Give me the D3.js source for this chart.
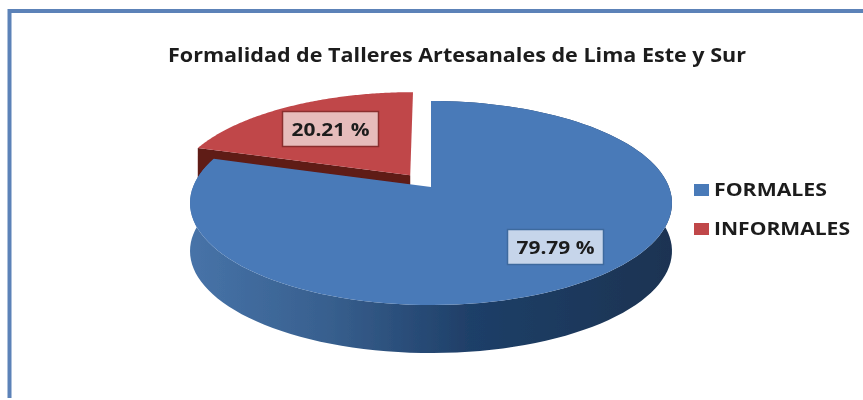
<!DOCTYPE html>
<html>
<head>
<meta charset="utf-8">
<script src="https://cdn.jsdelivr.net/npm/d3@7"></script>
<style>
  html, body { margin: 0; padding: 0; background: #fff; }
  svg { display: block; }
</style>
</head>
<body>
<svg id="chart" width="863" height="400"></svg>
<script>
const titleText = "Formalidad de Talleres Artesanales de Lima Este y Sur";
const categories = ["FORMALES", "INFORMALES"];
const values = [79.79, 20.21];
const labels = ["79.79 %", "20.21 %"];
const topColors = ["#4a7ab8", "#c0474a"];

const svg = d3.select("#chart");
const font = "'Open Sans', 'Noto Sans', sans-serif";

const defs = svg.append("defs");
// la imagen original esta algo borrosa
defs.append("filter").attr("id", "soft")
  .append("feGaussianBlur").attr("stdDeviation", 0.55);

const wallGrad = defs.append("linearGradient")
  .attr("id", "wallBlue")
  .attr("gradientUnits", "userSpaceOnUse")
  .attr("x1", 190).attr("x2", 672).attr("y1", 0).attr("y2", 0);
wallGrad.append("stop").attr("offset", 0).attr("stop-color", "#4773a8");
wallGrad.append("stop").attr("offset", 0.28).attr("stop-color", "#38608f");
wallGrad.append("stop").attr("offset", 0.58).attr("stop-color", "#1f3f68");
wallGrad.append("stop").attr("offset", 1).attr("stop-color", "#1a3352");

const root = svg.append("g").attr("filter", "url(#soft)");

// marco del grafico
root.append("path")
  .attr("d", "M9.5,398V11H870")
  .attr("fill", "none")
  .attr("stroke", "#5b82b8")
  .attr("stroke-width", 4);

root.append("text")
  .attr("x", 168).attr("y", 62)
  .attr("textLength", 578)
  .attr("lengthAdjust", "spacingAndGlyphs")
  .attr("font-family", font)
  .attr("font-weight", 700)
  .attr("font-size", 19)
  .attr("fill", "#1c1c1c")
  .text(titleText);

// pastel en perspectiva: disco unidad -> pantalla
const cx = 431, cy = 187, rxP = 238, ryP = 99.5, k = -0.157, depth = 48;
function project(u, v) {
  const w = 1 + k * v;
  return [cx + u * rxP / w, cy + v * ryP / w];
}

const pie = d3.pie().sort(null);
const slices = pie(values);
const explode = [0, 0.15];
const line = d3.line();

const sliceData = slices.map((s, i) => {
  const mid = (s.startAngle + s.endAngle) / 2;
  const ox = Math.sin(mid) * explode[i];
  const oy = -Math.cos(mid) * explode[i];
  const steps = d3.range(0, 121).map(t => s.startAngle + (s.endAngle - s.startAngle) * t / 120);
  const rim = steps.map(a => project(ox + Math.sin(a), oy - Math.cos(a)));
  return { i, rim, center: project(ox, oy) };
});

// primero el sector rojo, el azul va delante
[1, 0].forEach(i => {
  const d = sliceData[i];
  const low = p => [p[0], p[1] + depth];
  if (i === 1) {
    root.append("path")
      .attr("d", line([d.center, d.rim[0], low(d.rim[0]), low(d.center)]) + "Z")
      .attr("fill", "#5e1a18");
  } else {
    root.append("path")
      .attr("d", line([...d.rim, ...d.rim.map(low).reverse()]) + "Z")
      .attr("fill", "url(#wallBlue)");
  }
  root.append("path")
    .attr("d", line([d.center, ...d.rim]) + "Z")
    .attr("fill", topColors[i]);
});

// etiquetas de datos
const labelBg = ["#c6d5ea", "#e6bcbb"];
const labelStroke = ["#3d6a9e", "#8a2f2d"];
const labelAt = [[555.5, 247], [330.5, 129]];
labels.forEach((t, i) => {
  const g = root.append("g").attr("transform", `translate(${labelAt[i][0]},${labelAt[i][1]})`);
  g.append("rect")
    .attr("x", -48).attr("y", -17.5).attr("width", 96).attr("height", 35)
    .attr("fill", labelBg[i])
    .attr("stroke", labelStroke[i])
    .attr("stroke-width", 1.5);
  g.append("text")
    .attr("x", -39).attr("y", 6.5)
    .attr("textLength", 78)
    .attr("lengthAdjust", "spacingAndGlyphs")
    .attr("font-family", font)
    .attr("font-weight", 700)
    .attr("font-size", 18)
    .attr("fill", "#1c1c1c")
    .text(t);
});

// leyenda
const legendY = d3.scalePoint().domain(categories).range([190, 229]);
const legendWidth = [113, 136];
categories.forEach((c, i) => {
  root.append("rect")
    .attr("x", 694).attr("y", legendY(c) - 6)
    .attr("width", 15).attr("height", 12)
    .attr("fill", topColors[i]);
  root.append("text")
    .attr("x", 714).attr("y", legendY(c) + 6)
    .attr("textLength", legendWidth[i])
    .attr("lengthAdjust", "spacingAndGlyphs")
    .attr("font-family", font)
    .attr("font-weight", 700)
    .attr("font-size", 17)
    .attr("fill", "#1c1c1c")
    .text(c);
});
</script>
</body>
</html>
